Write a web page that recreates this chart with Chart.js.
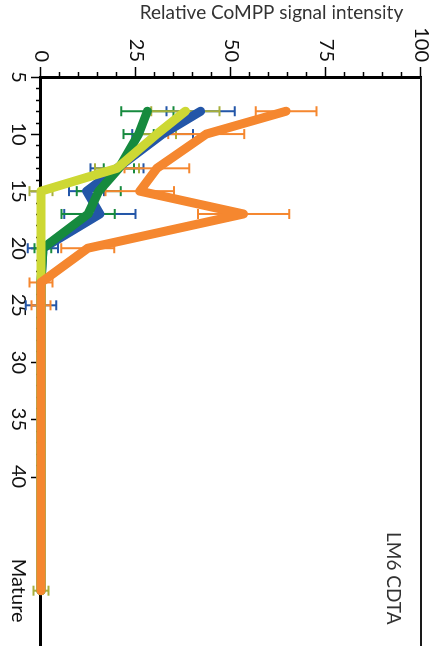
<!DOCTYPE html>
<html><head><meta charset="utf-8">
<script src="https://cdn.jsdelivr.net/npm/chart.js@4"></script>
<style>
html,body{margin:0;padding:0;background:#fff;overflow:hidden;width:448px;height:646px;}
#wrap{position:absolute;left:0;top:0;width:690px;height:448px;transform-origin:0 0;transform:translate(448px,0) rotate(90deg);}
</style></head><body>
<div id="wrap"><canvas id="c" width="690" height="448"></canvas></div>
<script>
// Categories (days); "Mature" is placed at 50 on the numeric axis
const ages = [8, 10, 13, 15, 17, 20, 23, 25, 50];
const catTickValues = [5, 10, 15, 20, 25, 30, 35, 40, 50];
const catTickLabels = ['5', '10', '15', '20', '25', '30', '35', '40', 'Mature'];
const valueTicks = [0, 25, 50, 75, 100];

const orangeVals = [64.5, 43.5, 30.5, 26, 53.3, 12.3, 0, 0, 0];
const orangeErr  = [8, 10, 8.5, 9, 12, 7, 3, 2.5, 0];
const blueVals   = [42, 32, 20, 12, 15.5, 0.5, 0, 0, 0];
const blueErr    = [9, 8, 7, 4.6, 9.4, 4, 0, 4, 0];
const greenVals  = [28, 25.7, 20.5, 15.2, 12.4, 0.5, 0, 0, 0];
const greenErr   = [6.9, 4, 4, 5.8, 7, 2.2, 0, 0, 0];
const limeVals   = [38, 30.5, 20, 0, 0, 0, 0, 0, 0];
const limeErr    = [9, 5, 5.8, 3, 0, 0, 0, 0, 2];

const titleText = 'Relative CoMPP signal intensity';
const panelLabel = 'LM6 CDTA';

const FONT = 'Lato';

function pts(vals){ return ages.map((a,i)=>({x:a, y:vals[i]})); }

const seriesDefs = [
  {name:'orange', vals:orangeVals, err:orangeErr, color:'#f5872f', errColor:'#f5872f', order:0},
  {name:'lime',   vals:limeVals,   err:limeErr,   color:'#cdd834', errColor:'#a7af3c', order:1},
  {name:'green',  vals:greenVals,  err:greenErr,  color:'#168a3e', errColor:'#168a3e', order:2},
  {name:'blue',   vals:blueVals,   err:blueErr,   color:'#2356a8', errColor:'#2356a8', order:3}
];

const custom = {
  id:'custom',
  beforeDatasetsDraw(chart){
    const {ctx, scales:{x, y}} = chart;
    ctx.save();
    ctx.strokeStyle = '#000';
    ctx.lineWidth = 1.5;
    // category ticks
    for (let v = 5; v <= 40; v++) {
      const px = Math.round(x.getPixelForValue(v)) + 0.5;
      const len = v % 5 === 0 ? 10 : 5;
      ctx.beginPath(); ctx.moveTo(px, y.bottom); ctx.lineTo(px, y.bottom + len); ctx.stroke();
    }
    // value ticks
    for (let v = 0; v <= 100; v += 5) {
      const py = Math.round(y.getPixelForValue(v)) + 0.5;
      const len = v % 25 === 0 ? 10 : 5;
      ctx.beginPath(); ctx.moveTo(x.left, py); ctx.lineTo(x.left - len, py); ctx.stroke();
    }
    // frame line at 100
    ctx.strokeStyle = '#1a1a1a';
    ctx.lineWidth = 2;
    const ptop = y.getPixelForValue(100);
    ctx.beginPath(); ctx.moveTo(x.left, ptop); ctx.lineTo(chart.width, ptop); ctx.stroke();
    // error bars
    ctx.lineWidth = 2;
    ctx.lineCap = 'butt';
    [...seriesDefs].reverse().forEach(s => {
      ctx.strokeStyle = s.errColor;
      ages.forEach((a, i) => {
        const e = s.err[i];
        if (!e) return;
        const px = x.getPixelForValue(a);
        const p1 = y.getPixelForValue(s.vals[i] + e);
        const p2 = y.getPixelForValue(s.vals[i] - e);
        ctx.beginPath();
        ctx.moveTo(px, p1); ctx.lineTo(px, p2);
        ctx.moveTo(px - 5, p1); ctx.lineTo(px + 5, p1);
        ctx.moveTo(px - 5, p2); ctx.lineTo(px + 5, p2);
        ctx.stroke();
      });
    });
    ctx.restore();
  },
  afterDraw(chart){
    const {ctx} = chart;
    ctx.save();
    // axis title (vertical in chart frame)
    ctx.fillStyle = '#333';
    ctx.font = '19px ' + FONT;
    ctx.textAlign = 'center';
    ctx.textBaseline = 'alphabetic';
    ctx.translate(18.5, 176.5);
    ctx.rotate(-Math.PI/2);
    ctx.fillText(titleText, 0, 0);
    ctx.restore();
    ctx.save();
    ctx.fillStyle = '#333';
    ctx.font = '19px ' + FONT;
    ctx.textAlign = 'left';
    ctx.textBaseline = 'alphabetic';
    ctx.fillText(panelLabel, 532, 61);
    ctx.restore();
  }
};

new Chart(document.getElementById('c'), {
  type:'line',
  data:{
    datasets: seriesDefs.map(s => ({
      label:s.name,
      data:pts(s.vals),
      borderColor:s.color,
      backgroundColor:s.color,
      borderWidth:9,
      borderCapStyle:'round',
      borderJoinStyle:'round',
      pointRadius:0,
      pointHoverRadius:0,
      tension:0,
      fill:false,
      clip:false,
      order:s.order
    }))
  },
  options:{
    responsive:false,
    animation:false,
    devicePixelRatio:1,
    layout:{padding:{top:22, right:0, left:0, bottom:0}},
    plugins:{legend:{display:false}, tooltip:{enabled:false}},
    scales:{
      x:{
        type:'linear', min:5, max:58.7,
        grid:{display:true, drawOnChartArea:false, drawTicks:false},
        border:{display:true, color:'#000', width:3},
        afterBuildTicks(scale){ scale.ticks = catTickValues.map(v => ({value:v})); },
        afterFit(scale){ scale.height = 41; },
        ticks:{
          padding:11, maxRotation:0, autoSkip:false,
          color:'#111', font:{family:FONT, size:20},
          callback(v){ const i = catTickValues.indexOf(v); return i >= 0 ? catTickLabels[i] : ''; }
        }
      },
      y:{
        type:'linear', min:0, max:100,
        grid:{display:true, drawOnChartArea:false, drawTicks:false},
        border:{display:true, color:'#000', width:3},
        afterBuildTicks(scale){ scale.ticks = valueTicks.map(v => ({value:v})); },
        afterFit(scale){ scale.width = 77; },
        ticks:{
          padding:15, color:'#111', font:{family:FONT, size:20}
        }
      }
    }
  },
  plugins:[custom]
});
</script>
</body></html>
